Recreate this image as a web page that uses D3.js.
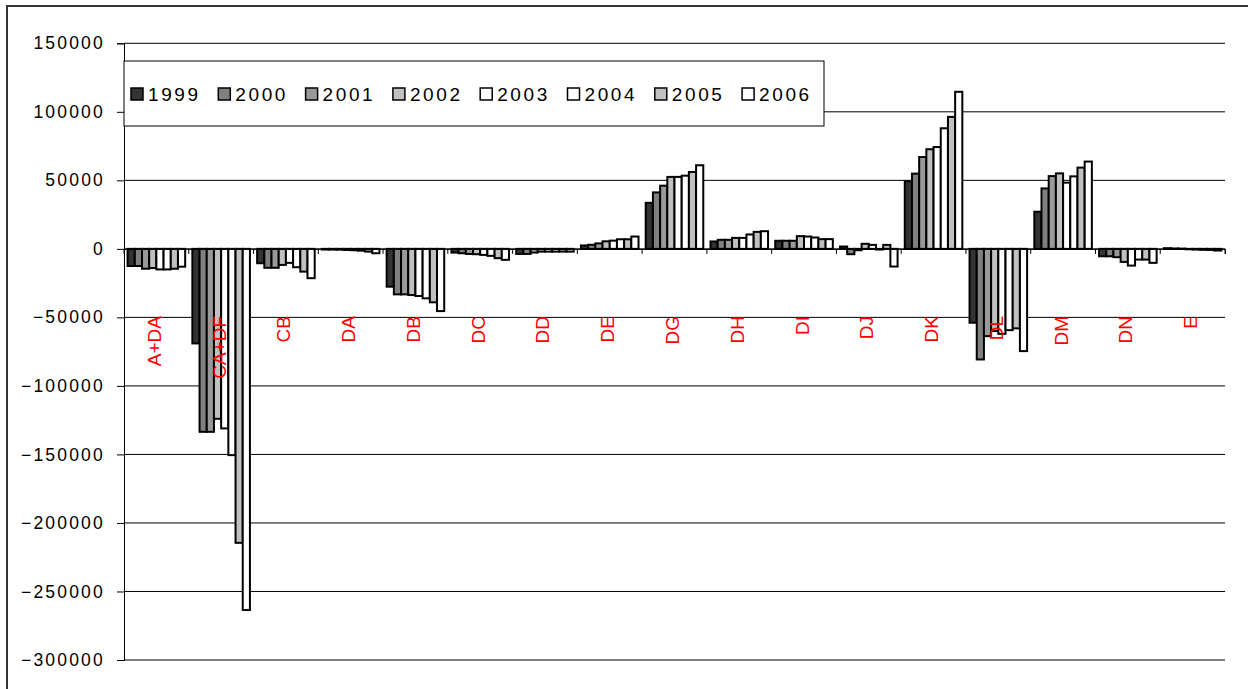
<!DOCTYPE html>
<html><head><meta charset="utf-8">
<script src="https://cdn.jsdelivr.net/npm/d3@7"></script>
<style>
html,body{margin:0;padding:0;background:#fff;}
svg{display:block;font-family:"Liberation Sans",Arial,sans-serif;}
</style></head>
<body>
<svg id="chart" width="1248" height="689"></svg>
<script>
const categories = ["A+DA","CA+DF","CB","DA","DB","DC","DD","DE","DG","DH","DI","DJ","DK","DL","DM","DN","E"];
const years = ["1999","2000","2001","2002","2003","2004","2005","2006"];
const yTicks = [150000,100000,50000,0,-50000,-100000,-150000,-200000,-250000,-300000];

const v1999 = [-12500,-69000,-10500,-500,-27600,-2700,-3700,2500,33600,5400,5900,1700,49300,-53900,27100,-5400,500];
const v2000 = [-12500,-133500,-13800,-500,-33200,-3200,-3700,3000,41200,6600,5900,-3900,54900,-80700,44100,-5400,300];
const v2001 = [-14500,-133500,-13800,-600,-33200,-3700,-2700,4000,46100,6600,5900,-1000,67000,-63700,53100,-6100,200];
const v2002 = [-14000,-124000,-11700,-800,-33700,-3900,-2000,5500,52500,8000,9300,3700,72700,-60000,55100,-9500,-300];
const v2003 = [-15000,-131000,-10200,-1000,-34400,-4400,-2000,6000,52500,8000,9000,2900,74300,-62000,48300,-12200,-500];
const v2004 = [-15000,-150500,-13400,-1300,-36100,-5100,-2000,7000,53400,10500,8300,-500,88000,-59300,52900,-7800,-700];
const v2005 = [-14500,-214500,-16600,-2000,-39000,-6800,-2000,7000,56100,12400,7100,2900,96300,-58000,59300,-7800,-800];
const v2006 = [-13000,-263500,-21400,-3200,-45400,-8000,-2000,9000,61000,12900,7100,-12900,114600,-74600,63700,-10200,-1200];
const seriesValues = [v1999,v2000,v2001,v2002,v2003,v2004,v2005,v2006];
const seriesColors = ["#333333","#808080","#999999","#c0c0c0","#ffffff","#ffffff","#c0c0c0","#ffffff"];

const svg = d3.select("#chart");
const plot = {left:124, right:1225, top:43.3, bottom:660};

// outer frame
svg.append("rect").attr("x",7).attr("y",6).attr("width",1300).attr("height",800)
  .attr("fill","none").attr("stroke","#333").attr("stroke-width",2);

const y = d3.scaleLinear().domain([-300000,150000]).range([plot.bottom, plot.top]);
const x0 = d3.scaleBand().domain(categories).range([plot.left, plot.right]).paddingInner(1/9).paddingOuter(0.5/9);
const x1 = d3.scaleBand().domain(years).range([0, x0.bandwidth()]);
const xBoundary = d3.scaleBand().domain(categories).range([plot.left, plot.right]);

// gridlines
svg.append("g").selectAll("line").data(yTicks).join("line")
  .attr("x1",plot.left).attr("x2",plot.right)
  .attr("y1",d=>y(d)).attr("y2",d=>y(d))
  .attr("stroke","#000").attr("stroke-width",1);

// y axis
const yAxis = d3.axisLeft(y).tickValues(yTicks).tickSize(7).tickPadding(12).tickFormat(d3.format("d"));
const gy = svg.append("g").attr("transform",`translate(${plot.left},0)`).call(yAxis);
gy.select(".domain").attr("stroke","#000").attr("stroke-width",1);
gy.selectAll(".tick line").attr("stroke","#000");
gy.selectAll(".tick text").attr("font-size",17.5).attr("letter-spacing","2.2px")
  .attr("fill","#000").attr("font-family","'Liberation Sans',Arial,sans-serif");

// bars
const gBars = svg.append("g");
categories.forEach((c,ci)=>{
  seriesValues.forEach((vals,si)=>{
    const v = vals[ci];
    gBars.append("rect")
      .attr("x", x0(c)+x1(years[si]))
      .attr("width", x1.bandwidth())
      .attr("y", Math.min(y(v),y(0)))
      .attr("height", Math.abs(y(v)-y(0)))
      .attr("fill", seriesColors[si])
      .attr("stroke","#000").attr("stroke-width",2);
  });
});

// category axis at zero
const xAxis = d3.axisBottom(xBoundary).tickSize(5).tickFormat("");
const gx = svg.append("g").attr("transform",`translate(0,${y(0)})`).call(xAxis);
gx.select(".domain").attr("stroke","#000");
gx.selectAll(".tick").remove();
gx.selectAll(".bt").data(categories.concat(["__end"])).join("line")
  .attr("x1",(d,i)=>plot.left + i*xBoundary.step()).attr("x2",(d,i)=>plot.left + i*xBoundary.step())
  .attr("y1",0).attr("y2",5).attr("stroke","#000");

// category labels
svg.append("g").selectAll("text").data(categories).join("text")
  .attr("transform",d=>`translate(${x0(d)+x0.bandwidth()/2+4.5},316) rotate(-90)`)
  .attr("text-anchor","end")
  .attr("font-size",19).attr("fill","#ff0000")
  .text(d=>d);

// legend
const lg = svg.append("g");
lg.append("rect").attr("x",124).attr("y",61).attr("width",700).attr("height",65)
  .attr("fill","#fff").attr("stroke","#000").attr("stroke-width",1);
years.forEach((yr,i)=>{
  const lx = 131 + i*87.3;
  lg.append("rect").attr("x",lx).attr("y",88).attr("width",12).attr("height",12)
    .attr("fill",seriesColors[i]).attr("stroke","#000").attr("stroke-width",1.5);
  lg.append("text").attr("x",lx+17).attr("y",101).attr("font-size",19)
    .attr("letter-spacing","2.6px").attr("fill","#000").text(yr);
});
</script>
</body></html>
